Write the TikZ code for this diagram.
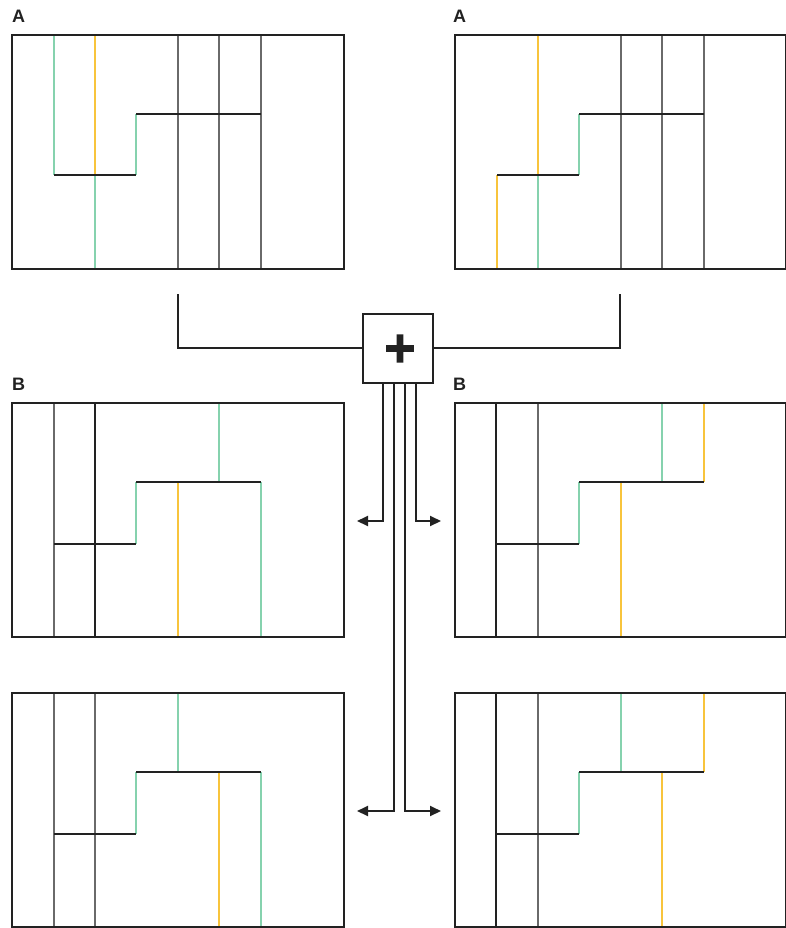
\documentclass[tikz,border=0pt]{standalone}
\usepackage{fontspec}
\setmainfont{Liberation Sans}
\newfontfamily\plusfont[FakeBold=4]{DejaVu Sans Bold}
\usetikzlibrary{arrows.meta}
\definecolor{mint}{HTML}{86D2AE}
\definecolor{gold}{HTML}{F8C43C}
\definecolor{gridgray}{HTML}{6A6A6A}
\definecolor{ink}{HTML}{222222}
\begin{document}
\begin{tikzpicture}[x=1pt,y=-1pt,
  frame/.style={draw=ink, line width=2.2pt},
  gl/.style={draw=gridgray, line width=1.3pt},
  dl/.style={draw=ink, line width=1.3pt},
  gr/.style={draw=mint, line width=1.4pt},
  yl/.style={draw=gold, line width=1.4pt},
  stepline/.style={draw=ink, line width=2.2pt},
  conn/.style={draw=ink, line width=2pt},
  arr/.style={conn, -{Triangle[length=11pt,width=10pt]}},
  lab/.style={font=\bfseries\fontsize{18}{18}\selectfont, inner sep=0pt, text=ink},
  plusbox/.style={draw=ink, line width=2pt, minimum width=70pt, minimum height=69pt, inner sep=0pt},
  plustext/.style={font=\plusfont\fontsize{42}{42}\selectfont, text=ink, inner sep=0pt}]
\useasboundingbox (0,0) rectangle (786,928);
\fill[white] (0,0) rectangle (786,928);

% ---------- labels ----------
\node[lab] (labA1) at (18.5,16) {A};
\node[lab] (labA2) at (459.5,16) {A};
\node[lab] (labB1) at (18.5,384.5) {B};
\node[lab] (labB2) at (459.5,384.5) {B};

% ---------- panel A left ----------
\draw[gr] (54,35) -- (54,175);
\draw[yl] (95,35) -- (95,175);
\draw[gr] (95,175) -- (95,269);
\draw[gr] (136,114) -- (136,175);
\draw[gl] (178,35) -- (178,269);
\draw[gl] (219,35) -- (219,269);
\draw[gl] (261,35) -- (261,269);
\draw[stepline] (54,175) -- (136,175);
\draw[stepline] (136,114) -- (261,114);
\draw[frame] (12,35) rectangle (344,269);

% ---------- panel A right ----------
\draw[yl] (538,35) -- (538,175);
\draw[gr] (538,175) -- (538,269);
\draw[yl] (497,175) -- (497,269);
\draw[gr] (579,114) -- (579,175);
\draw[gl] (621,35) -- (621,269);
\draw[gl] (662,35) -- (662,269);
\draw[gl] (704,35) -- (704,269);
\draw[stepline] (497,175) -- (579,175);
\draw[stepline] (579,114) -- (704,114);
\draw[frame] (455,35) rectangle (786.2,269);

% ---------- panel B left ----------
\draw[gl] (54,403) -- (54,637);
\draw[dl] (95,403) -- (95,637);
\draw[gr] (136,482) -- (136,544);
\draw[yl] (178,482) -- (178,637);
\draw[gr] (219,403) -- (219,482);
\draw[gr] (261,482) -- (261,637);
\draw[stepline] (54,544) -- (136,544);
\draw[stepline] (136,482) -- (261,482);
\draw[frame] (12,403) rectangle (344,637);

% ---------- panel B right ----------
\draw[dl] (496,403) -- (496,637);
\draw[gl] (538,403) -- (538,637);
\draw[gr] (579,482) -- (579,544);
\draw[yl] (621,482) -- (621,637);
\draw[gr] (662,403) -- (662,482);
\draw[yl] (704,403) -- (704,482);
\draw[stepline] (496,544) -- (579,544);
\draw[stepline] (579,482) -- (704,482);
\draw[frame] (455,403) rectangle (786.2,637);

% ---------- panel C left ----------
\draw[gl] (54,693) -- (54,927);
\draw[gl] (95,693) -- (95,927);
\draw[gr] (136,772) -- (136,834);
\draw[gr] (178,693) -- (178,772);
\draw[yl] (219,772) -- (219,927);
\draw[gr] (261,772) -- (261,927);
\draw[stepline] (54,834) -- (136,834);
\draw[stepline] (136,772) -- (261,772);
\draw[frame] (12,693) rectangle (344,927);

% ---------- panel C right ----------
\draw[dl] (496,693) -- (496,927);
\draw[gl] (538,693) -- (538,927);
\draw[gr] (579,772) -- (579,834);
\draw[gr] (621,693) -- (621,772);
\draw[yl] (662,772) -- (662,927);
\draw[yl] (704,693) -- (704,772);
\draw[stepline] (496,834) -- (579,834);
\draw[stepline] (579,772) -- (704,772);
\draw[frame] (455,693) rectangle (786.2,927);

% ---------- combiner ----------
\node[plusbox] (plus) at (398.3,348.3) {};
\node[plustext] (plussign) at (400,348.5) {+};
\coordinate (inL) at (178,294);
\coordinate (inR) at (620,294);
\draw[conn] (inL) |- (plus.west);
\draw[conn] (inR) |- (plus.east);

\coordinate (s1) at (383,383);
\coordinate (s2) at (393.5,383);
\coordinate (s3) at (404.5,383);
\coordinate (s4) at (415.5,383);
\coordinate (e1) at (357,521);
\coordinate (e4) at (441,521);
\coordinate (e2) at (357,811);
\coordinate (e3) at (441,811);
\draw[arr] (s1) |- (e1);
\draw[arr] (s4) |- (e4);
\draw[arr] (s2) |- (e2);
\draw[arr] (s3) |- (e3);
\end{tikzpicture}
\end{document}
